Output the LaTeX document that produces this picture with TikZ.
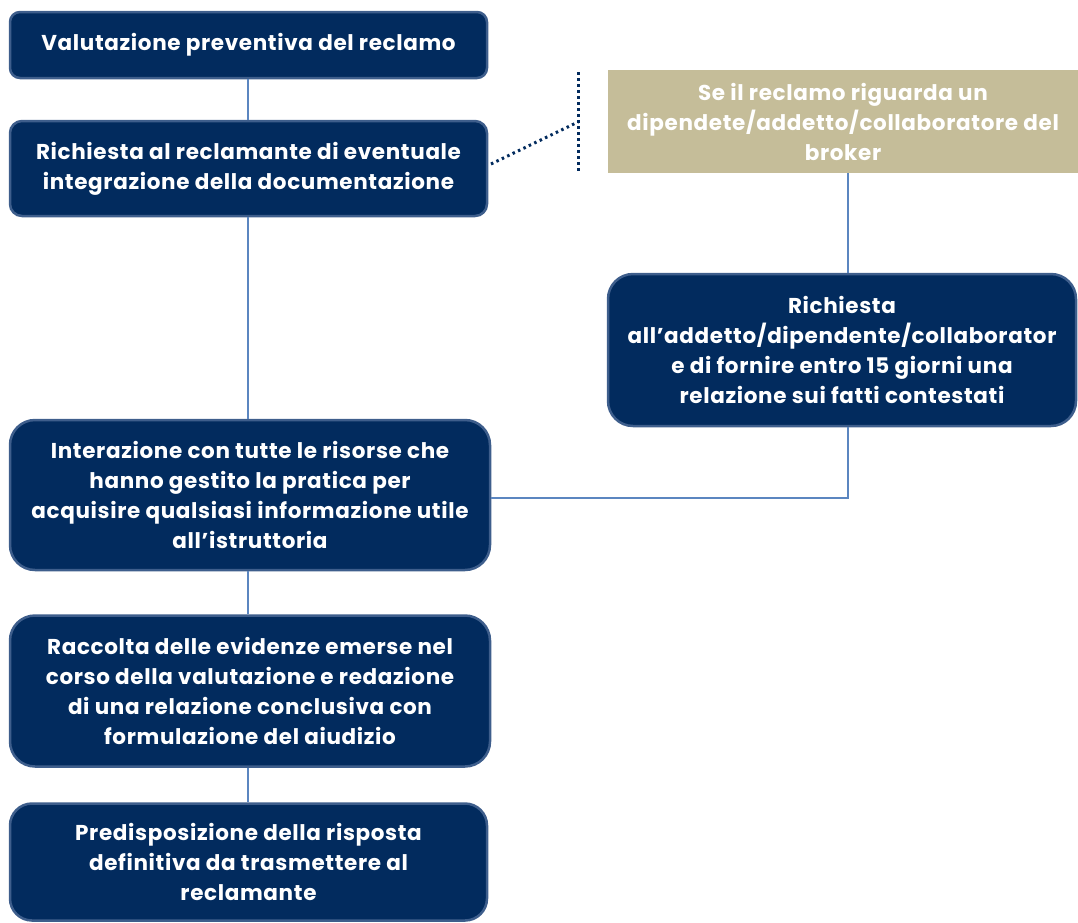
\documentclass[tikz,border=0pt]{standalone}
\usepackage{fontspec}
\setmainfont{Poppins}[LetterSpace=3]
\definecolor{navy}{HTML}{022B5E}
\definecolor{navyedge}{HTML}{3E5E8C}
\definecolor{beige}{HTML}{C5BD99}
\definecolor{linkblue}{HTML}{5B86C0}
\begin{document}
\begin{tikzpicture}[x=1pt,y=-1pt,
  navybox/.style={draw=navyedge, line width=2.5pt, fill=navy, text=white,
    font=\bfseries\fontsize{21.5}{30}\selectfont, align=center, inner sep=2pt},
  beigebox/.style={fill=beige, text=white, font=\bfseries\fontsize{21.5}{30}\selectfont,
    align=center, inner sep=2pt},
  link/.style={draw=linkblue, line width=1.3pt},
  dotline/.style={draw=navy, line width=3pt, dash pattern=on 2.5pt off 3.5pt}]
\useasboundingbox (0,0) rectangle (1078,922);

\node[navybox, rounded corners=10pt, minimum width=477pt, minimum height=66pt] (b1) at (248.5,45)
  {Valutazione preventiva del reclamo};
\node[navybox, rounded corners=12pt, minimum width=477pt, minimum height=95pt] (b2) at (248.5,168.5)
  {Richiesta al reclamante di eventuale\\integrazione della documentazione};
\node[beigebox, minimum width=470pt, minimum height=103pt] (bg) at (843,121.5)
  {Se il reclamo riguarda un\\dipendete/addetto/collaboratore del\\broker};
\node[navybox, rounded corners=25pt, minimum width=468pt, minimum height=152pt] (b4) at (842,350)
  {Richiesta\\all’addetto/dipendente/collaborator\\e di fornire entro 15 giorni una\\relazione sui fatti contestati};
\node[navybox, rounded corners=25pt, minimum width=480pt, minimum height=150pt] (b5) at (250,495)
  {Interazione con tutte le risorse che\\hanno gestito la pratica per\\acquisire qualsiasi informazione utile\\all’istruttoria};
\node[navybox, rounded corners=25pt, minimum width=480pt, minimum height=151pt] (b6) at (250,691)
  {Raccolta delle evidenze emerse nel\\corso della valutazione e redazione\\di una relazione conclusiva con\\formulazione del aiudizio};
\node[navybox, rounded corners=22pt, minimum width=477pt, minimum height=117pt] (b7) at (248.5,862)
  {Predisposizione della risposta\\definitiva da trasmettere al\\reclamante};

\coordinate (vx) at (848,0);
\coordinate (hy) at (0,498);
\coordinate (lx) at (248,0);
\coordinate (dtop) at (578,72);
\coordinate (dbot) at (578,172);
\coordinate (dmid) at (578,122);
\coordinate (dstart) at (491,164);

\draw[link] (b1.south -| lx) -- (b2.north -| lx);
\draw[link] (b2.south -| lx) -- (b5.north -| lx);
\draw[link] (b5.south -| lx) -- (b6.north -| lx);
\draw[link] (b6.south -| lx) -- (b7.north -| lx);
\draw[link] (bg.south -| vx) -- (b4.north -| vx);
\draw[link] (b4.south -| vx) |- (b5.east |- hy);

\draw[dotline] (dtop) -- (dbot);
\draw[dotline] (dstart) -- (dmid);
\end{tikzpicture}
\end{document}
